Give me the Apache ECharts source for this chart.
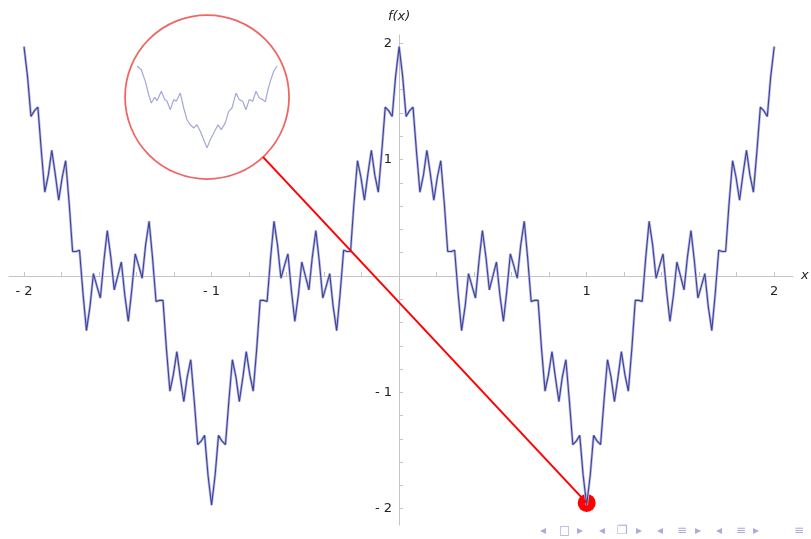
<!DOCTYPE html>
<html>
<head>
<meta charset="utf-8">
<title>Weierstrass function</title>
<script src="https://cdn.jsdelivr.net/npm/echarts@6/dist/echarts.min.js"></script>
<style>
  html, body { margin: 0; padding: 0; background: #fff; }
  #chart { width: 811px; height: 539px; }
</style>
</head>
<body>
<div id="chart"></div>
<script>
// main curve (x from -2 to 2)
const curveX = [
  -2, -1.981, -1.963, -1.944, -1.926, -1.907, -1.889, -1.87, -1.852, -1.833, -1.815, -1.796, -1.778, -1.759,
  -1.741, -1.722, -1.704, -1.685, -1.667, -1.648, -1.63, -1.611, -1.593, -1.574, -1.556, -1.537, -1.519, -1.5,
  -1.481, -1.463, -1.444, -1.426, -1.407, -1.389, -1.37, -1.352, -1.333, -1.315, -1.296, -1.278, -1.259, -1.241,
  -1.222, -1.204, -1.185, -1.167, -1.148, -1.13, -1.111, -1.093, -1.074, -1.056, -1.037, -1.019, -1,
  -0.981, -0.963, -0.944, -0.926, -0.907, -0.889, -0.87, -0.852, -0.833, -0.815, -0.796, -0.778, -0.759,
  -0.741, -0.722, -0.704, -0.685, -0.667, -0.648, -0.63, -0.611, -0.593, -0.574, -0.556, -0.537, -0.519, -0.5,
  -0.481, -0.463, -0.444, -0.426, -0.407, -0.389, -0.37, -0.352, -0.333, -0.315, -0.296, -0.278, -0.259, -0.241,
  -0.222, -0.204, -0.185, -0.167, -0.148, -0.13, -0.111, -0.093, -0.074, -0.056, -0.037, -0.019, 0,
  0.019, 0.037, 0.056, 0.074, 0.093, 0.111, 0.13, 0.148, 0.167, 0.185, 0.204, 0.222, 0.241,
  0.259, 0.278, 0.296, 0.315, 0.333, 0.352, 0.37, 0.389, 0.407, 0.426, 0.444, 0.463, 0.481, 0.5,
  0.519, 0.537, 0.556, 0.574, 0.593, 0.611, 0.63, 0.648, 0.667, 0.685, 0.704, 0.722, 0.741,
  0.759, 0.778, 0.796, 0.815, 0.833, 0.852, 0.87, 0.889, 0.907, 0.926, 0.944, 0.963, 0.981, 1,
  1.019, 1.037, 1.056, 1.074, 1.093, 1.111, 1.13, 1.148, 1.167, 1.185, 1.204, 1.222, 1.241,
  1.259, 1.278, 1.296, 1.315, 1.333, 1.352, 1.37, 1.389, 1.407, 1.426, 1.444, 1.463, 1.481, 1.5,
  1.519, 1.537, 1.556, 1.574, 1.593, 1.611, 1.63, 1.648, 1.667, 1.685, 1.704, 1.722, 1.741,
  1.759, 1.778, 1.796, 1.815, 1.833, 1.852, 1.87, 1.889, 1.907, 1.926, 1.944, 1.963, 1.981, 2
]
const curveY = [
  1.97, 1.71, 1.37, 1.42, 1.45, 1.06, 0.72, 0.87, 1.08, 0.87, 0.65, 0.85, 0.99, 0.62,
  0.21, 0.21, 0.22, -0.16, -0.47, -0.26, 0.02, -0.09, -0.19, 0.13, 0.39, 0.16, -0.12, 0,
  0.12, -0.16, -0.39, -0.13, 0.19, 0.09, -0.02, 0.26, 0.47, 0.16, -0.22, -0.21, -0.21, -0.62,
  -0.99, -0.85, -0.65, -0.87, -1.08, -0.87, -0.72, -1.06, -1.45, -1.42, -1.37, -1.71, -1.97,
  -1.71, -1.37, -1.42, -1.45, -1.06, -0.72, -0.87, -1.08, -0.87, -0.65, -0.85, -0.99, -0.62,
  -0.21, -0.21, -0.22, 0.16, 0.47, 0.26, -0.02, 0.09, 0.19, -0.13, -0.39, -0.16, 0.12, 0,
  -0.12, 0.16, 0.39, 0.13, -0.19, -0.09, 0.02, -0.26, -0.47, -0.16, 0.22, 0.21, 0.21,
  0.62, 0.99, 0.85, 0.65, 0.87, 1.08, 0.87, 0.72, 1.06, 1.45, 1.42, 1.37, 1.71, 1.97,
  1.71, 1.37, 1.42, 1.45, 1.06, 0.72, 0.87, 1.08, 0.87, 0.65, 0.85, 0.99, 0.62,
  0.21, 0.21, 0.22, -0.16, -0.47, -0.26, 0.02, -0.09, -0.19, 0.13, 0.39, 0.16, -0.12, 0,
  0.12, -0.16, -0.39, -0.13, 0.19, 0.09, -0.02, 0.26, 0.47, 0.16, -0.22, -0.21, -0.21,
  -0.62, -0.99, -0.85, -0.65, -0.87, -1.08, -0.87, -0.72, -1.06, -1.45, -1.42, -1.37, -1.71, -1.97,
  -1.71, -1.37, -1.42, -1.45, -1.06, -0.72, -0.87, -1.08, -0.87, -0.65, -0.85, -0.99, -0.62,
  -0.21, -0.21, -0.22, 0.16, 0.47, 0.26, -0.02, 0.09, 0.19, -0.13, -0.39, -0.16, 0.12, 0,
  -0.12, 0.16, 0.39, 0.13, -0.19, -0.09, 0.02, -0.26, -0.47, -0.16, 0.22, 0.21, 0.21,
  0.62, 0.99, 0.85, 0.65, 0.87, 1.08, 0.87, 0.72, 1.06, 1.45, 1.42, 1.37, 1.71, 1.97
]

// magnified piece shown inside the circle
const insetX = [
  -1, -0.939, -0.881, -0.833, -0.796, -0.747, -0.714, -0.653, -0.604, -0.571, -0.524, -0.476, -0.439, -0.381,
  -0.333, -0.286, -0.239, -0.19, -0.143, -0.096, -0.047, 0, 0.047, 0.096, 0.157, 0.204, 0.261, 0.31,
  0.357, 0.414, 0.461, 0.51, 0.557, 0.604, 0.653, 0.7, 0.747, 0.796, 0.833, 0.871, 0.904, 0.953, 1
]
const insetY = [
  2, 1.82, 1.27, 0.63, 0.24, 0.51, 0.35, 0.8, 0.4, 0.32, -0.08, 0.4, 0.32, 0.71,
  0, -0.56, -0.8, -0.95, -0.8, -1.11, -1.51, -1.9, -1.51, -1.19, -0.8, -1.03, -0.71, -0.16,
  0, 0.71, 0.4, 0.32, -0.08, 0.4, 0.32, 0.8, 0.48, 0.4, 0.29, 0.87, 1.27, 1.75, 2
]

const zoomCircle = [[-1.024, 1.537]]
const pointerLine = [[-0.725, 1.021], [1, -1.95]]
const markedPoint = [[1, -1.95]]

const tickValues = [-2, -1.8, -1.6, -1.4, -1.2, -1, -0.8, -0.6, -0.4, -0.2, 0,
  0.2, 0.4, 0.6, 0.8, 1, 1.2, 1.4, 1.6, 1.8, 2]
const labelValues = [-2, -1, 1, 2]

const navIcons = [
  ['◂', 546], ['□', 565], ['▸', 583],
  ['◂', 605], ['❐', 623], ['▸', 642],
  ['◂', 663], ['≡', 683], ['▸', 701],
  ['◂', 722], ['≡', 742], ['▸', 759],
  ['≡', 800]
]

// grid layout (pixels) and axis ranges
const G = { left: 9, right: 18, top: 35, bottom: 14 }
const X_MIN = -2.08, X_MAX = 2.1, Y_MIN = -2.14, Y_MAX = 2.07
const W = 811, H = 539
const gw = W - G.left - G.right
const gh = H - G.top - G.bottom
// put the axes through the origin by shifting them with offset
const xOffset = -(gh * (0 - Y_MIN) / (Y_MAX - Y_MIN))
const yOffset = -(gw * (0 - X_MIN) / (X_MAX - X_MIN))

const fmt = v => (v < 0 ? '- ' + Math.abs(v) : String(v))
const curve = curveX.map((x, i) => [x, curveY[i]])
const inset = insetX.map((x, i) => [x, insetY[i]])

const chart = echarts.init(document.getElementById('chart'), null, { renderer: 'canvas' })

const axisColor = '#c4c4c4'
const textStyle = { fontFamily: 'DejaVu Sans', fontSize: 13, color: '#222' }

const option = {
  animation: false,
  backgroundColor: '#fff',
  grid: [
    { ...G, containLabel: false, outerBoundsMode: 'none' },
    { left: 137, top: 66, width: 140, height: 84, containLabel: false, outerBoundsMode: 'none' }
  ],
  xAxis: [
    {
      type: 'value',
      min: X_MIN,
      max: X_MAX,
      position: 'bottom',
      offset: xOffset,
      name: 'x',
      nameLocation: 'end',
      nameGap: 8,
      nameTextStyle: { ...textStyle, fontStyle: 'italic' },
      axisLine: { onZero: false, lineStyle: { color: axisColor, width: 1 } },
      axisTick: { show: true, inside: true, length: 4, customValues: tickValues, lineStyle: { color: axisColor } },
      axisLabel: { ...textStyle, margin: 9, customValues: labelValues, formatter: fmt },
      splitLine: { show: false }
    },
    { type: 'value', gridIndex: 1, min: -1, max: 1, show: false }
  ],
  yAxis: [
    {
      type: 'value',
      min: Y_MIN,
      max: Y_MAX,
      position: 'left',
      offset: yOffset,
      name: 'f(x)',
      nameLocation: 'end',
      nameGap: 12,
      nameTextStyle: { ...textStyle, fontStyle: 'italic', align: 'center' },
      axisLine: { onZero: false, lineStyle: { color: axisColor, width: 1 } },
      axisTick: { show: true, inside: true, length: 4, customValues: tickValues, lineStyle: { color: axisColor } },
      axisLabel: { ...textStyle, margin: 7, customValues: labelValues, formatter: fmt },
      splitLine: { show: false }
    },
    { type: 'value', gridIndex: 1, min: -2, max: 2, show: false }
  ],
  graphic: navIcons.map(([t, x]) => ({
    type: 'text',
    left: x - 6,
    top: 525,
    silent: true,
    style: { text: t, fontFamily: 'DejaVu Sans', fontSize: 12, fill: '#a9acd9' }
  })),
  series: [
    {
      type: 'line',
      data: curve,
      symbol: 'none',
      silent: true,
      lineStyle: { color: '#b6b9e2', width: 2.6 }
    },
    {
      type: 'line',
      data: curve,
      symbol: 'none',
      silent: true,
      lineStyle: { color: '#3d4198', width: 1.1 }
    },
    {
      type: 'line',
      xAxisIndex: 1,
      yAxisIndex: 1,
      data: inset,
      symbol: 'none',
      silent: true,
      lineStyle: { color: '#a4a7d8', width: 1.2 }
    },
    {
      type: 'scatter',
      data: zoomCircle,
      symbol: 'circle',
      symbolSize: 164,
      clip: false,
      silent: true,
      itemStyle: { color: 'rgba(0,0,0,0)', borderColor: '#e8423e', borderWidth: 1.8 }
    },
    {
      type: 'line',
      data: pointerLine,
      symbol: 'none',
      silent: true,
      clip: false,
      lineStyle: { color: '#f00', width: 2 }
    },
    {
      type: 'scatter',
      data: markedPoint,
      symbol: 'circle',
      symbolSize: 18,
      clip: false,
      silent: true,
      itemStyle: { color: '#f00', opacity: 1 }
    }
  ]
}

chart.setOption(option)
</script>
</body>
</html>
